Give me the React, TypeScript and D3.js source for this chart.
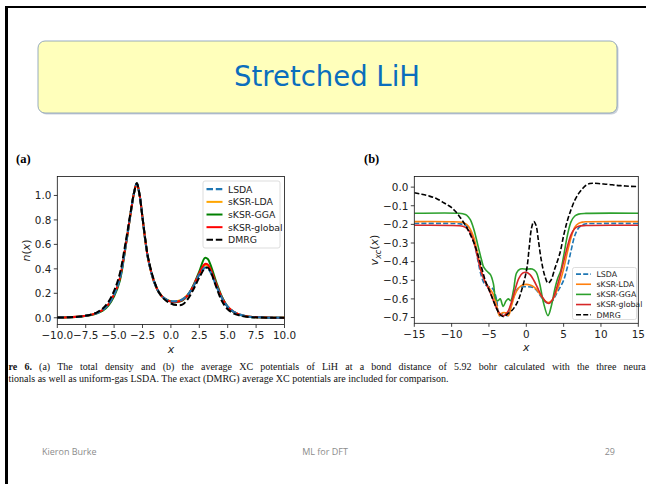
import React from "react";
import * as d3 from "d3";

// ---- panel (a): total density n(x) ----
const xDensity = [-10, -9, -8, -7, -6.5, -6, -5.5, -5, -4.5, -4, -3.5, -3.25, -3, -2.75, -2.5, -2.25, -2, -1.5, -1, -0.5, 0, 0.5, 1, 1.5, 2, 2.5, 3, 3.25, 3.5, 4, 4.5, 5, 5.5, 6, 6.5, 7, 8, 9, 10];
const nLSDA = [0.002, 0.004, 0.01, 0.025, 0.04, 0.065, 0.11, 0.19, 0.32, 0.58, 0.88, 1.02, 1.1, 1.0, 0.82, 0.63, 0.48, 0.3, 0.2, 0.155, 0.137, 0.136, 0.15, 0.19, 0.26, 0.35, 0.41, 0.405, 0.37, 0.26, 0.16, 0.09, 0.05, 0.028, 0.015, 0.008, 0.003, 0.001, 0];
const nKsrLDA = [0.002, 0.004, 0.01, 0.025, 0.04, 0.065, 0.11, 0.19, 0.32, 0.58, 0.88, 1.02, 1.1, 1.0, 0.82, 0.63, 0.48, 0.3, 0.2, 0.155, 0.136, 0.135, 0.15, 0.19, 0.26, 0.36, 0.43, 0.425, 0.385, 0.27, 0.165, 0.09, 0.05, 0.028, 0.015, 0.008, 0.003, 0.001, 0];
const nKsrGGA = [0.002, 0.004, 0.009, 0.022, 0.036, 0.058, 0.1, 0.175, 0.3, 0.57, 0.88, 1.02, 1.1, 1.0, 0.82, 0.63, 0.48, 0.3, 0.2, 0.152, 0.132, 0.128, 0.14, 0.185, 0.27, 0.38, 0.49, 0.48, 0.43, 0.29, 0.17, 0.09, 0.048, 0.026, 0.014, 0.007, 0.003, 0.001, 0];
const nKsrGlobal = [0.002, 0.004, 0.01, 0.025, 0.04, 0.065, 0.11, 0.19, 0.32, 0.58, 0.88, 1.02, 1.1, 1.0, 0.82, 0.63, 0.48, 0.3, 0.2, 0.152, 0.132, 0.13, 0.145, 0.185, 0.265, 0.365, 0.44, 0.435, 0.395, 0.275, 0.165, 0.09, 0.05, 0.028, 0.015, 0.008, 0.003, 0.001, 0];
const nDMRG = [0.002, 0.004, 0.01, 0.027, 0.045, 0.075, 0.13, 0.22, 0.36, 0.61, 0.89, 1.02, 1.1, 1.0, 0.82, 0.64, 0.49, 0.31, 0.2, 0.145, 0.117, 0.104, 0.108, 0.155, 0.235, 0.33, 0.405, 0.41, 0.375, 0.25, 0.135, 0.07, 0.037, 0.02, 0.01, 0.005, 0.002, 0.0005, 0];

// ---- panel (b): average XC potential v_xc(x), [x, v] pairs ----
const vLSDA: [number, number][] = [[-15, -0.195], [-10, -0.195], [-9, -0.197], [-8.5, -0.2], [-8, -0.21], [-7.5, -0.235], [-7, -0.29], [-6.5, -0.39], [-6, -0.48], [-5.5, -0.525], [-5, -0.535], [-4.5, -0.545], [-4, -0.6], [-3.6, -0.69], [-3, -0.675], [-2.5, -0.69], [-2, -0.63], [-1.5, -0.57], [-1, -0.54], [0, -0.535], [1, -0.54], [1.5, -0.56], [2, -0.59], [2.5, -0.615], [3, -0.622], [3.5, -0.61], [4, -0.575], [4.5, -0.54], [5, -0.5], [5.5, -0.43], [6, -0.34], [6.5, -0.26], [7, -0.22], [7.5, -0.203], [8, -0.197], [10, -0.195], [15, -0.195]];
const vKsrLDA: [number, number][] = [[-15, -0.185], [-9, -0.187], [-8.5, -0.19], [-8, -0.2], [-7.5, -0.225], [-7, -0.275], [-6.5, -0.36], [-6, -0.45], [-5.5, -0.51], [-5, -0.54], [-4.5, -0.57], [-4, -0.63], [-3.6, -0.69], [-3.2, -0.675], [-2.8, -0.675], [-2.4, -0.69], [-2, -0.64], [-1.5, -0.575], [-1, -0.54], [-0.5, -0.525], [0, -0.522], [0.5, -0.525], [1, -0.535], [1.5, -0.555], [2, -0.585], [2.5, -0.61], [3, -0.62], [3.5, -0.605], [4, -0.565], [4.5, -0.51], [5, -0.44], [5.5, -0.35], [6, -0.27], [6.5, -0.215], [7, -0.195], [7.5, -0.188], [8, -0.186], [15, -0.185]];
const vKsrGGA: [number, number][] = [[-15, -0.14], [-9, -0.14], [-8.5, -0.143], [-8, -0.15], [-7.5, -0.175], [-7, -0.23], [-6.5, -0.31], [-6, -0.39], [-5.7, -0.43], [-5.3, -0.45], [-4.8, -0.47], [-4.4, -0.52], [-4.1, -0.6], [-3.8, -0.61], [-3.5, -0.6], [-3.1, -0.64], [-2.7, -0.61], [-2.4, -0.6], [-2.1, -0.61], [-1.7, -0.55], [-1.3, -0.46], [-0.8, -0.44], [0, -0.44], [0.8, -0.44], [1.3, -0.455], [1.8, -0.52], [2.3, -0.62], [2.9, -0.69], [3.4, -0.63], [3.8, -0.55], [4.2, -0.49], [4.6, -0.45], [5, -0.37], [5.5, -0.26], [6, -0.185], [6.5, -0.155], [7, -0.145], [8, -0.141], [15, -0.14]];
const vKsrGlobal: [number, number][] = [[-15, -0.205], [-9, -0.207], [-8.5, -0.21], [-8, -0.22], [-7.5, -0.245], [-7, -0.3], [-6.5, -0.38], [-6, -0.46], [-5.5, -0.51], [-5, -0.55], [-4.5, -0.6], [-4, -0.65], [-3.5, -0.68], [-3, -0.69], [-2.5, -0.67], [-2, -0.62], [-1.5, -0.55], [-1, -0.49], [-0.5, -0.462], [0, -0.457], [0.5, -0.47], [1, -0.5], [1.5, -0.54], [2, -0.58], [2.5, -0.61], [3, -0.625], [3.5, -0.605], [4, -0.55], [4.5, -0.48], [5, -0.4], [5.5, -0.32], [6, -0.255], [6.5, -0.222], [7, -0.21], [8, -0.206], [15, -0.205]];
const vDMRG: [number, number][] = [[-15, -0.03], [-14, -0.038], [-13, -0.048], [-12, -0.062], [-11, -0.085], [-10.5, -0.097], [-10, -0.11], [-9.5, -0.13], [-9, -0.155], [-8.5, -0.183], [-8, -0.215], [-7.5, -0.255], [-7, -0.3], [-6.5, -0.36], [-6, -0.43], [-5.5, -0.5], [-5, -0.55], [-4.5, -0.6], [-4, -0.65], [-3.5, -0.685], [-3, -0.695], [-2.5, -0.68], [-2, -0.665], [-1.5, -0.64], [-1, -0.6], [-0.6, -0.55], [-0.2, -0.49], [0.1, -0.43], [0.4, -0.32], [0.7, -0.22], [1, -0.185], [1.3, -0.205], [1.6, -0.28], [2, -0.39], [2.5, -0.48], [2.9, -0.515], [3.3, -0.5], [3.8, -0.44], [4.5, -0.355], [5, -0.26], [5.5, -0.18], [6, -0.12], [6.5, -0.07], [7, -0.035], [7.5, -0.01], [8, 0.01], [8.5, 0.019], [9, 0.021], [10, 0.018], [11, 0.015], [12, 0.01], [13, 0.007], [14, 0.004], [15, 0.003]];

const methods = ["LSDA", "sKSR-LDA", "sKSR-GGA", "sKSR-global", "DMRG"];
const densityTicksX = [-10, -7.5, -5, -2.5, 0, 2.5, 5, 7.5, 10];
const densityTicksY = [0, 0.2, 0.4, 0.6, 0.8, 1.0];
const vxcTicksX = [-15, -10, -5, 0, 5, 10, 15];
const vxcTicksY = [-0.7, -0.6, -0.5, -0.4, -0.3, -0.2, -0.1, 0];

const FONT = "DejaVu Sans";
const fmt1 = d3.format(".1f");
const fmt0 = d3.format("d");

type Series = { name: string; pts: [number, number][]; color: string; dash?: string; width: number };

function Panel(props: {
  id: string;
  x: d3.ScaleLinear<number, number>;
  y: d3.ScaleLinear<number, number>;
  ticksX: number[];
  ticksY: number[];
  fmtX: (v: number) => string;
  series: Series[];
  legendOrder: Series[];
  legend: { x: number; y: number; w: number; h: number; step: number; fs: number; lineLen: number };
}) {
  const { id, x, y, ticksX, ticksY, fmtX, series, legend } = props;
  const [x0, x1] = x.range();
  const [y0, y1] = y.range(); // y0 bottom, y1 top
  const line = d3
    .line<[number, number]>()
    .x((d) => x(d[0]))
    .y((d) => y(d[1]))
    .curve(d3.curveCatmullRom.alpha(0.5));
  return (
    <g>
      <defs>
        <clipPath id={id}>
          <rect x={x0} y={y1} width={x1 - x0} height={y0 - y1} />
        </clipPath>
      </defs>
      <g clipPath={`url(#${id})`}>
        {series.map((s) => (
          <path key={s.name} d={line(s.pts) || ""} fill="none" stroke={s.color} strokeWidth={s.width} strokeDasharray={s.dash} />
        ))}
      </g>
      <rect x={x0} y={y1} width={x1 - x0} height={y0 - y1} fill="none" stroke="#111" strokeWidth={0.8} />
      {ticksX.map((t) => (
        <g key={"x" + t}>
          <line x1={x(t)} x2={x(t)} y1={y0} y2={y0 + 3.5} stroke="#111" strokeWidth={0.8} />
          <text x={x(t)} y={y0 + 14.5} textAnchor="middle" fontFamily={FONT} fontSize={10.4} fill="#222">
            {fmtX(t)}
          </text>
        </g>
      ))}
      {ticksY.map((t) => (
        <g key={"y" + t}>
          <line x1={x0 - 3.5} x2={x0} y1={y(t)} y2={y(t)} stroke="#111" strokeWidth={0.8} />
          <text x={x0 - 6} y={y(t) + 3.8} textAnchor="end" fontFamily={FONT} fontSize={10.4} fill="#222">
            {fmt1(t)}
          </text>
        </g>
      ))}
      <g>
        <rect x={legend.x} y={legend.y} width={legend.w} height={legend.h} rx={2} fill="white" fillOpacity={0.85} stroke="#d4d4d4" strokeWidth={0.8} />
        {props.legendOrder.map((s, i) => {
          const ly = legend.y + legend.step * 0.65 + i * legend.step;
          return (
            <g key={"l" + s.name}>
              <line x1={legend.x + 3.5} x2={legend.x + 3.5 + legend.lineLen} y1={ly} y2={ly} stroke={s.color} strokeWidth={s.width} strokeDasharray={s.dash} />
              <text x={legend.x + 6 + legend.lineLen + 3} y={ly + legend.fs * 0.36} fontFamily={FONT} fontSize={legend.fs} fill="#222">
                {s.name}
              </text>
            </g>
          );
        })}
      </g>
    </g>
  );
}

export default function App() {
  const xA = d3.scaleLinear().domain([-10, 10]).range([57.3, 284.5]);
  const yA = d3.scaleLinear().domain([-0.055, 1.155]).range([324.5, 176.5]);
  const xB = d3.scaleLinear().domain([-15, 15]).range([414.3, 638.3]);
  const yB = d3.scaleLinear().domain([-0.731, 0.057]).range([323.3, 176.5]);

  const pair = (ys: number[]) => xDensity.map((v, i) => [v, ys[i]] as [number, number]);
  const aLSDA: Series = { name: methods[0], pts: pair(nLSDA), color: "#1f77b4", dash: "6.5,2.8", width: 2.2 };
  const aLDA: Series = { name: methods[1], pts: pair(nKsrLDA), color: "#ffa500", width: 2 };
  const aGGA: Series = { name: methods[2], pts: pair(nKsrGGA), color: "#008000", width: 2 };
  const aGlob: Series = { name: methods[3], pts: pair(nKsrGlobal), color: "#ff0000", width: 2 };
  const aDMRG: Series = { name: methods[4], pts: pair(nDMRG), color: "#000", dash: "6.5,2.8", width: 2 };

  const bLSDA: Series = { name: methods[0], pts: vLSDA, color: "#1f77b4", dash: "5,2.2", width: 1.6 };
  const bLDA: Series = { name: methods[1], pts: vKsrLDA, color: "#ff7f0e", width: 1.6 };
  const bGGA: Series = { name: methods[2], pts: vKsrGGA, color: "#2ca02c", width: 1.6 };
  const bGlob: Series = { name: methods[3], pts: vKsrGlobal, color: "#d62728", width: 1.6 };
  const bDMRG: Series = { name: methods[4], pts: vDMRG, color: "#000", dash: "5,2.2", width: 1.6 };

  return (
    <svg width={646} height={484} style={{ position: "fixed", left: 0, top: 0, background: "white" }}>
      <rect x={0} y={0} width={646} height={484} fill="white" />
      {/* slide frame */}
      <rect x={5} y={6} width={641} height={2} fill="#000" />
      <rect x={5} y={6} width={3} height={478} fill="#000" />

      {/* title box */}
      <rect x={39.5} y={42.5} width={579} height={72} rx={7} fill="#8a9aad" opacity={0.45} />
      <rect x={38} y={41} width={579} height={72} rx={7} fill="#ffffbb" stroke="#7f97b5" strokeWidth={0.8} />
      <text x={327} y={86} textAnchor="middle" fontFamily="DejaVu Sans" fontSize={27.5} fill="#0a6ebd">
        Stretched LiH
      </text>

      {/* panel labels */}
      <text x={16} y={163} fontFamily="Liberation Serif" fontWeight="bold" fontSize={12.5}>(a)</text>
      <text x={364} y={163} fontFamily="Liberation Serif" fontWeight="bold" fontSize={12.5}>(b)</text>

      <Panel
        id="clipA"
        x={xA}
        y={yA}
        ticksX={densityTicksX}
        ticksY={densityTicksY}
        fmtX={fmt1}
        series={[aLDA, aGGA, aGlob, aLSDA, aDMRG]}
        legendOrder={[aLSDA, aLDA, aGGA, aGlob, aDMRG]}
        legend={{ x: 203, y: 181, w: 77, h: 67, step: 12.65, fs: 9.3, lineLen: 16 }}
      />
      <Panel
        id="clipB"
        x={xB}
        y={yB}
        ticksX={vxcTicksX}
        ticksY={vxcTicksY}
        fmtX={fmt0}
        series={[bLSDA, bLDA, bGGA, bGlob, bDMRG]}
        legendOrder={[bLSDA, bLDA, bGGA, bGlob, bDMRG]}
        legend={{ x: 572.5, y: 267.5, w: 64, h: 52, step: 10.15, fs: 7.8, lineLen: 15 }}
      />

      {/* axis labels */}
      <text transform="translate(30,250.5) rotate(-90)" textAnchor="middle" fontFamily={FONT} fontSize={11} fill="#222">
        <tspan fontStyle="italic">n</tspan>(<tspan fontStyle="italic">x</tspan>)
      </text>
      <text transform="translate(378,250) rotate(-90)" textAnchor="middle" fontFamily={FONT} fontSize={11} fill="#222">
        <tspan fontStyle="italic">v</tspan>
        <tspan fontStyle="italic" fontSize={8} dy={2.5}>xc</tspan>
        <tspan dy={-2.5}>(</tspan>
        <tspan fontStyle="italic">x</tspan>)
      </text>
      <text x={(57.3 + 284.5) / 2} y={353} textAnchor="middle" fontFamily={FONT} fontStyle="italic" fontSize={11} fill="#222">x</text>
      <text x={(414.3 + 638.3) / 2} y={351} textAnchor="middle" fontFamily={FONT} fontStyle="italic" fontSize={11} fill="#222">x</text>

      {/* caption */}
      <text x={8.5} y={370} fontFamily="Liberation Serif" fontSize={10} fill="#111" wordSpacing={4.7}>
        <tspan fontWeight="bold">re 6.</tspan> (a) The total density and (b) the average XC potentials of LiH at a bond distance of 5.92 bohr calculated with the three neura
      </text>
      <text x={8.5} y={382} fontFamily="Liberation Serif" fontSize={10} fill="#111">
        tionals as well as uniform-gas LSDA. The exact (DMRG) average XC potentials are included for comparison.
      </text>

      {/* footer */}
      <text x={42} y={455} fontFamily="Open Sans" fontSize={9} fill="#8c8c8c">Kieron Burke</text>
      <text x={325} y={455} textAnchor="middle" fontFamily="Open Sans" fontSize={9} fill="#8c8c8c">ML for DFT</text>
      <text x={615} y={455} textAnchor="end" fontFamily="Open Sans" fontSize={9} fill="#8c8c8c">29</text>
    </svg>
  );
}
